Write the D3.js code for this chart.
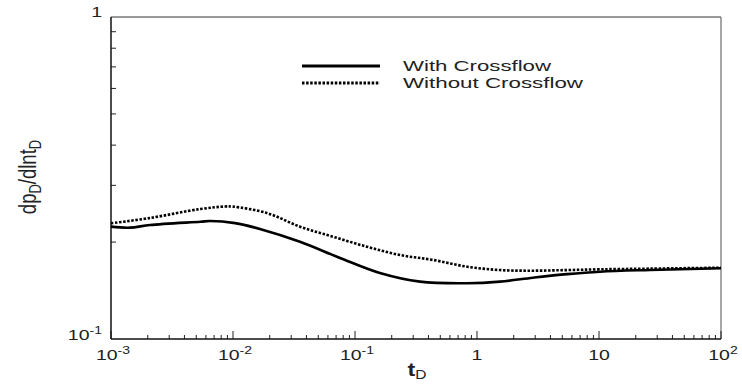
<!DOCTYPE html>
<html><head><meta charset="utf-8">
<script src="https://cdn.jsdelivr.net/npm/d3@7"></script>
<style>body{margin:0;background:#fff}svg{display:block}</style>
</head><body>
<svg id="c" width="742" height="385"></svg>
<script>
// ---- data ----
const tWith = [0.001, 0.00143, 0.00209, 0.0054, 0.0065, 0.0104, 0.0166, 0.0354, 0.0754, 0.160, 0.341, 0.828, 1.545, 2.88, 5.47, 10.2, 26.2, 100];
const vWith = [0.2233, 0.2217, 0.226, 0.2313, 0.2325, 0.229, 0.2196, 0.2004, 0.1785, 0.1603, 0.1507, 0.149, 0.1507, 0.155, 0.159, 0.1618, 0.1638, 0.1659];
const tWithout = [0.001, 0.00209, 0.0054, 0.0086, 0.01, 0.019, 0.0354, 0.066, 0.125, 0.234, 0.436, 0.828, 1.545, 2.88, 5.47, 10.2, 26.2, 100];
const vWithout = [0.2287, 0.2376, 0.2533, 0.2579, 0.2577, 0.2461, 0.2233, 0.2078, 0.1935, 0.1823, 0.176, 0.1677, 0.1637, 0.163, 0.1637, 0.1646, 0.1654, 0.1665];
const seriesNames = ["With Crossflow", "Without Crossflow"];
const xTickExps = [-3, -2, -1, 0, 1, 2];
const xTickLabels = [["10","-3"], ["10","-2"], ["10","-1"], ["1",""], ["10",""], ["10","2"]];
const yTickLabels = [["10","-1"], ["1",""]];
const yTickVals = [0.1, 1];
const xLabel = "t", xLabelSub = "D";

// ---- layout ----
const svg = d3.select("#c");
const L = 111, R = 721, T = 17, B = 339;
const x = d3.scaleLog().domain([1e-3, 1e2]).range([L, R]);
const y = d3.scaleLog().domain([0.1, 1]).range([B, T]);
const font = "'Liberation Sans', Arial, sans-serif";

// frame (top/right grey)
svg.append("line").attr("x1", L).attr("x2", R).attr("y1", T).attr("y2", T).attr("stroke", "#777").attr("stroke-width", 1.3);
svg.append("line").attr("x1", R).attr("x2", R).attr("y1", T).attr("y2", B).attr("stroke", "#777").attr("stroke-width", 1.3);

// minor / major ticks x
const xMinor = [];
for (let e = -3; e < 2; e++) for (let m = 2; m <= 9; m++) xMinor.push(m * Math.pow(10, e));
svg.append("g").selectAll("line").data(xMinor).join("line")
  .attr("x1", d => x(d)).attr("x2", d => x(d)).attr("y1", B).attr("y2", B - 4)
  .attr("stroke", "#222").attr("stroke-width", 1);
svg.append("g").selectAll("line").data(xTickExps.map(e => Math.pow(10, e))).join("line")
  .attr("x1", d => x(d)).attr("x2", d => x(d)).attr("y1", B).attr("y2", B - 8)
  .attr("stroke", "#222").attr("stroke-width", 1);
// y minor ticks
const yMinor = [0.2, 0.3, 0.4, 0.5, 0.6, 0.7, 0.8, 0.9];
svg.append("g").selectAll("line").data(yMinor).join("line")
  .attr("x1", L).attr("x2", L + 5).attr("y1", d => y(d)).attr("y2", d => y(d))
  .attr("stroke", "#222").attr("stroke-width", 1);

// axes left/bottom
svg.append("line").attr("x1", L).attr("x2", L).attr("y1", T).attr("y2", B).attr("stroke", "#111").attr("stroke-width", 1.5);
svg.append("line").attr("x1", L).attr("x2", R).attr("y1", B).attr("y2", B).attr("stroke", "#111").attr("stroke-width", 1.5);

function powLabel(px, py, base, exp, anchor, sx, size) {
  const g = svg.append("g").attr("transform", `translate(${px},${py}) scale(${sx},1)`);
  const t = g.append("text").attr("font-family", font).attr("font-size", size)
    .attr("fill", "#222").attr("text-anchor", anchor);
  t.append("tspan").text(base);
  if (exp) t.append("tspan").attr("dy", -6).attr("font-size", size * 0.72).text(exp);
  return g;
}
xTickExps.forEach((e, i) => {
  const lab = xTickLabels[i];
  powLabel(x(Math.pow(10, e)) + (lab[1] ? 2 : 0), 360, lab[0], lab[1], "middle", 1.3, 15);
});
yTickVals.forEach((v, i) => {
  const lab = yTickLabels[i];
  powLabel(102, y(v) + (v === 1 ? 0 : 1), lab[0], lab[1], "end", 1.3, 15);
});

// axis titles
const xt = svg.append("g").attr("transform", "translate(417,376) scale(1.3,1)")
  .append("text").attr("font-family", font)
  .attr("font-size", 18).attr("font-weight", "bold").attr("fill", "#222").attr("text-anchor", "middle");
xt.append("tspan").text(xLabel);
xt.append("tspan").attr("dy", 2.5).attr("font-size", 12).attr("font-weight", "normal").text(xLabelSub);

const yt = svg.append("text").attr("transform", "translate(36,177) scale(1.25,1) rotate(-90)")
  .attr("font-family", font).attr("font-size", 18.5).attr("fill", "#222").attr("text-anchor", "middle");
yt.append("tspan").text("dp");
yt.append("tspan").attr("dy", 4).attr("font-size", 13).text("D");
yt.append("tspan").attr("dy", -4).text("/dlnt");
yt.append("tspan").attr("dy", 4).attr("font-size", 13).text("D");

// curves
const line = d3.line().x(d => x(d[0])).y(d => y(d[1])).curve(d3.curveCatmullRom.alpha(0.5));
svg.append("path").datum(tWith.map((t, i) => [t, vWith[i]]))
  .attr("d", line).attr("fill", "none").attr("stroke", "#000").attr("stroke-width", 2.6);
svg.append("path").datum(tWithout.map((t, i) => [t, vWithout[i]]))
  .attr("d", line).attr("fill", "none").attr("stroke", "#000").attr("stroke-width", 2.6)
  .attr("stroke-dasharray", "2.5,1.6");

// legend
const lg = [[66, null], [83, "2.5,1.6"]];
lg.forEach((d, i) => {
  const l = svg.append("line").attr("x1", 302).attr("x2", 380).attr("y1", d[0]).attr("y2", d[0])
    .attr("stroke", "#000").attr("stroke-width", 3);
  if (d[1]) l.attr("stroke-dasharray", d[1]);
  svg.append("text").attr("x", 403).attr("y", d[0] + 5).attr("font-family", font)
    .attr("font-size", 15).attr("fill", "#222")
    .attr("textLength", i === 0 ? 148 : 180).attr("lengthAdjust", "spacingAndGlyphs")
    .text(seriesNames[i]);
});
</script>
</body></html>
